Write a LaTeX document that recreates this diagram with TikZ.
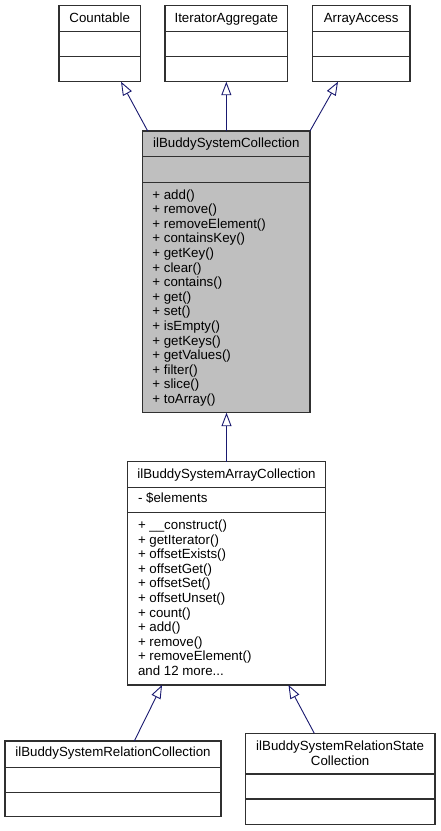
\documentclass[tikz,border=0pt]{standalone}
\usepackage{fontspec}
\setmainfont{Liberation Sans}
\usetikzlibrary{arrows.meta,calc}
\definecolor{edgeblue}{HTML}{191970}
\definecolor{selfill}{HTML}{BFBFBF}
\definecolor{boxline}{HTML}{303030}
\begin{document}
\begin{tikzpicture}[x=1pt,y=-1pt,
  every node/.style={font=\fontsize{13.3}{14.6}\selectfont},
  umlbox/.style={draw=boxline,line width=1.1pt,rectangle,inner sep=0pt,outer sep=0pt,anchor=north west},
  divider/.style={draw=boxline,line width=1.1pt},
  title/.style={anchor=base,inner sep=0pt,text=black},
  member/.style={anchor=base west,inner sep=0pt,text=black},
  inh/.style={draw=edgeblue,line width=0.9pt,-{Triangle[open,length=13.5pt,width=10pt,fill=white]}}
]
\useasboundingbox (0,0) rectangle (440,831);
\fill[white] (0,0) rectangle (440,831);

% ---- top interfaces ----
\node[umlbox,minimum width=81.5pt,minimum height=76.2pt] (countable) at (59,5.5) {};
\node[umlbox,minimum width=122.7pt,minimum height=76.2pt] (iter) at (165,5.5) {};
\node[umlbox,minimum width=97.7pt,minimum height=76.2pt] (aa) at (312.3,5.5) {};
\foreach \b in {countable,iter,aa}{
  \draw[divider] ($(\b.north west)+(0,26)$) -- ($(\b.north east)+(0,26)$);
  \draw[divider] ($(\b.north west)+(0,51)$) -- ($(\b.north east)+(0,51)$);
}
\node[title] (tcountable) at (99.75,22.3) {Countable};
\node[title] (titer) at (226.35,22.3) {IteratorAggregate};
\node[title] (taa) at (361.15,22.3) {ArrayAccess};

% ---- ilBuddySystemCollection ----
\node[umlbox,fill=selfill,minimum width=167.3pt,minimum height=281.7pt] (coll) at (142.7,131) {};
\draw[divider] ($(coll.north west)+(0,25.3)$) -- ($(coll.north east)+(0,25.3)$);
\draw[divider] ($(coll.north west)+(0,51.3)$) -- ($(coll.north east)+(0,51.3)$);
\node[title] (tcoll) at (226.35,147.3) {ilBuddySystemCollection};
\foreach \m [count=\i from 0] in {add(),remove(),removeElement(),containsKey(),getKey(),clear(),contains(),get(),set(),isEmpty(),getKeys(),getValues(),filter(),slice(),toArray()}{
  \node[member] (cm\i) at (152.2,199+14.6*\i) {+ \m};
}

% ---- ilBuddySystemArrayCollection ----
\node[umlbox,minimum width=198.4pt,minimum height=223.3pt] (acoll) at (127.3,461.7) {};
\draw[divider] ($(acoll.north west)+(0,25.6)$) -- ($(acoll.north east)+(0,25.6)$);
\draw[divider] ($(acoll.north west)+(0,51)$) -- ($(acoll.north east)+(0,51)$);
\node[title] (tacoll) at (226.5,478.3) {ilBuddySystemArrayCollection};
\node[member] (aattr) at (137.8,502.7) {- \$elements};
\foreach \m [count=\i from 0] in {\_\_construct(),getIterator(),offsetExists(),offsetGet(),offsetSet(),offsetUnset(),count(),add(),remove(),removeElement()}{
  \node[member] (am\i) at (137.8,529.4+14.6*\i) {+ \m};
}
\node[member] (amore) at (137.8,529.4+146) {and 12 more...};

% ---- ilBuddySystemRelationCollection ----
\node[umlbox,minimum width=216pt,minimum height=75.7pt] (rcoll) at (5,741) {};
\draw[divider] ($(rcoll.north west)+(0,26.3)$) -- ($(rcoll.north east)+(0,26.3)$);
\draw[divider] ($(rcoll.north west)+(0,51.3)$) -- ($(rcoll.north east)+(0,51.3)$);
\node[title] (trcoll) at (113,756.7) {ilBuddySystemRelationCollection};

% ---- ilBuddySystemRelationStateCollection ----
\node[umlbox,minimum width=189.7pt,minimum height=91pt] (scoll) at (245.3,733.3) {};
\draw[divider] ($(scoll.north west)+(0,40.7)$) -- ($(scoll.north east)+(0,40.7)$);
\draw[divider] ($(scoll.north west)+(0,65.7)$) -- ($(scoll.north east)+(0,65.7)$);
\node[title] (tscoll1) at (340.15,750.7) {ilBuddySystemRelationState};
\node[title] (tscoll2) at (340.15,765) {Collection};

% ---- inheritance edges ----
\draw[inh] ($(coll.north west)+(5,0)$) -- ($(countable.south west)+(62,0)$);
\draw[inh] (coll.north) -- (iter.south);
\draw[inh] (coll.north east) -- ($(aa.south west)+(25.7,0)$);
\draw[inh] (acoll.north) -- (acoll.north |- coll.south);
\draw[inh] ($(rcoll.north west)+(129.3,0)$) -- ($(acoll.south west)+(34.7,0)$);
\draw[inh] ($(scoll.north west)+(69,0)$) -- ($(acoll.south west)+(161.2,0)$);
\end{tikzpicture}
\end{document}
